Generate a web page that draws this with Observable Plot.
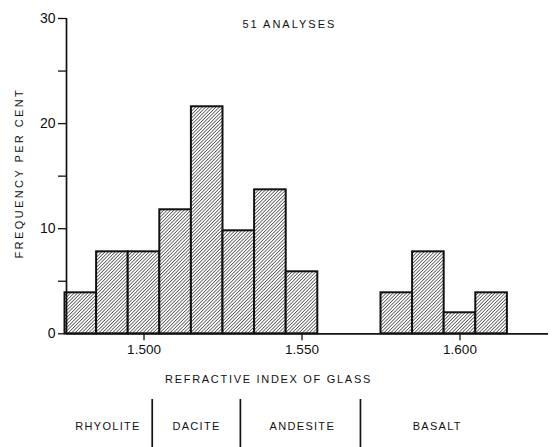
<!DOCTYPE html>
<html>
<head>
<meta charset="utf-8">
<script src="https://cdn.jsdelivr.net/npm/d3@7"></script>
<script src="https://cdn.jsdelivr.net/npm/@observablehq/plot@0.6"></script>
<style>
  html, body { margin: 0; padding: 0; background: #fff; }
  svg { display: block; }
</style>
</head>
<body>
<div id="chart"></div>
<script>
// Bins of refractive index (lower and upper edges) and frequency per cent
const binLo = [1.475, 1.485, 1.495, 1.505, 1.515, 1.525, 1.535, 1.545, 1.575, 1.585, 1.595, 1.605];
const binHi = [1.485, 1.495, 1.505, 1.515, 1.525, 1.535, 1.545, 1.555, 1.585, 1.595, 1.605, 1.615];
const freq  = [3.9, 7.8, 7.8, 11.8, 21.6, 9.8, 13.7, 5.9, 3.9, 7.8, 2.0, 3.9];

const xTicks = [1.500, 1.550, 1.600];
const yTicks = [0, 10, 20, 30];
const yMinorTicks = [5, 15, 25];

const rockNames = ["RHYOLITE", "DACITE", "ANDESITE", "BASALT"];
const rockCenters = [1.4886, 1.5166, 1.5501, 1.5928];
const rockBounds = [1.5026, 1.5305, 1.5685];

const title = "51 ANALYSES";
const xLabel = "REFRACTIVE INDEX OF GLASS";
const yLabel = "FREQUENCY PER CENT";

const bins = binLo.map((lo, i) => ({lo, hi: binHi[i], f: freq[i]}));
const xDomain = [1.47547, 1.62801];

const font = "'Liberation Sans', Arial, Helvetica, sans-serif";

const plot = Plot.plot({
  width: 553,
  height: 447,
  marginLeft: 66,
  marginRight: 5,
  marginTop: 18,
  marginBottom: 113.7,
  style: {fontFamily: font, color: "#111", background: "#fff", overflow: "visible"},
  x: {domain: xDomain},
  y: {domain: [0, 30]},
  marks: [
    Plot.rectY(bins, {x1: "lo", x2: "hi", y1: 0, y2: "f", fill: "url(#hatch)", stroke: "#111", strokeWidth: 2}),
    Plot.ruleY([0], {stroke: "#111", strokeWidth: 1.7}),
    Plot.ruleX([xDomain[0]], {y1: 0, y2: 30, stroke: "#111", strokeWidth: 1.7}),
    Plot.axisY({ticks: yTicks, tickSize: 8, tickPadding: 3, fontSize: 14, label: null, stroke: "#111", strokeWidth: 1.3}),
    Plot.axisY({ticks: yMinorTicks, tickSize: 8, tickFormat: () => "", label: null, stroke: "#111", strokeWidth: 1.3}),
    Plot.axisX({ticks: xTicks, tickSize: 7, tickPadding: 4, fontSize: 13.5, tickFormat: d3.format(".3f"), label: null, stroke: "#111", strokeWidth: 1.3}),
    Plot.text([title], {x: 1.5460, y: 29.45, text: d => d, fontSize: 11, fill: "#111"}),
    Plot.text([yLabel], {frameAnchor: "left", dx: -47, dy: -3, rotate: -90, textAnchor: "middle", text: d => d, fontSize: 11, fill: "#111"}),
    Plot.text([xLabel], {x: 1.5394, y: 0, dy: 46, text: d => d, fontSize: 11, fill: "#111"}),
    Plot.text(rockNames, {x: (d, i) => rockCenters[i], y: 0, dy: 93, text: d => d, fontSize: 11, fill: "#111"}),
    Plot.ruleX(rockBounds, {y1: -6.25, y2: -10.9, stroke: "#111", strokeWidth: 1.7})
  ]
});

// letter spacing for the uppercase labels
const spacing = new Map([[title, 2.0], [yLabel, 2.4], [xLabel, 1.7]]);
rockNames.forEach(n => spacing.set(n, 1.3));
d3.select(plot).selectAll("text").each(function() {
  const s = spacing.get(this.textContent);
  if (s != null) this.setAttribute("letter-spacing", s);
});

// hatch pattern for bars
const defs = d3.select(plot).insert("defs", ":first-child");
const pat = defs.append("pattern")
  .attr("id", "hatch")
  .attr("patternUnits", "userSpaceOnUse")
  .attr("width", 2.4)
  .attr("height", 2.4)
  .attr("patternTransform", "rotate(45)");
pat.append("rect").attr("width", 2.4).attr("height", 2.4).attr("fill", "#fff");
pat.append("line").attr("x1", 0).attr("y1", 0).attr("x2", 0).attr("y2", 2.4)
  .attr("stroke", "#222").attr("stroke-width", 1.25);

document.getElementById("chart").appendChild(plot);
</script>
</body>
</html>
